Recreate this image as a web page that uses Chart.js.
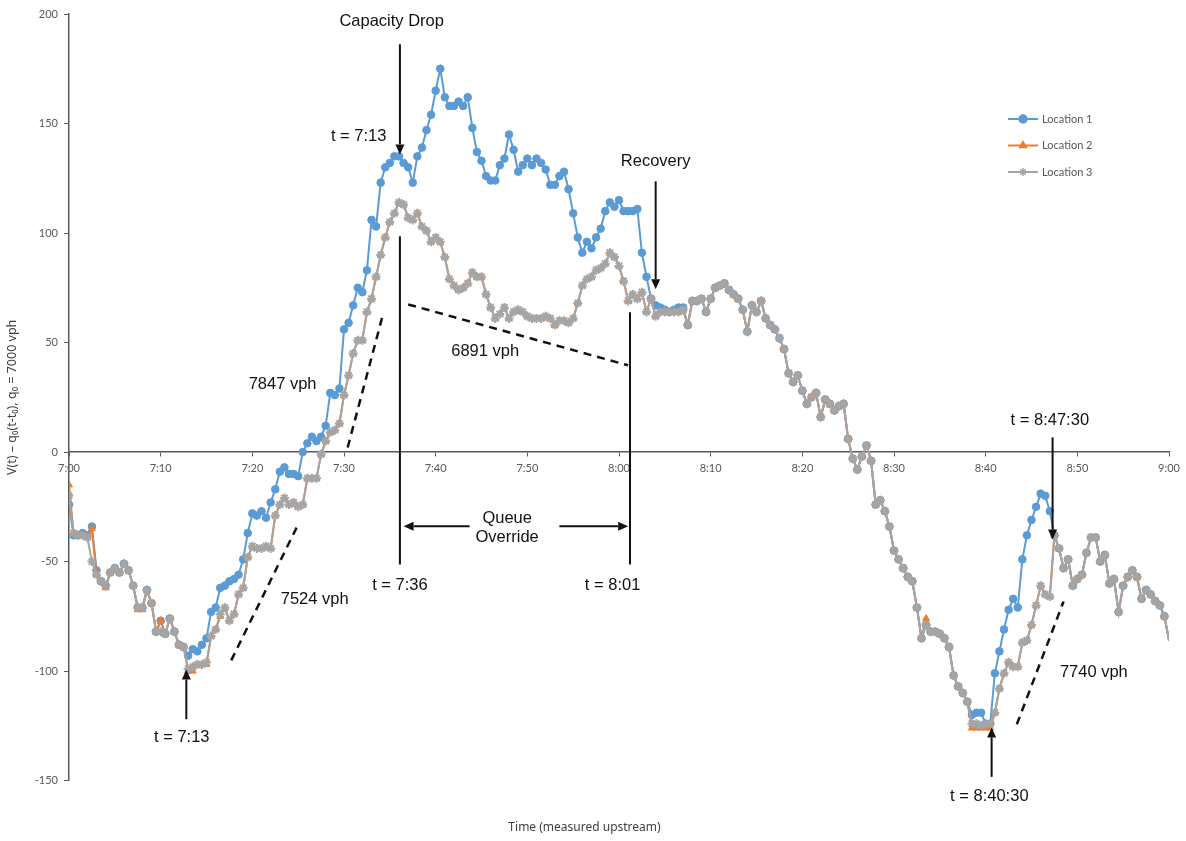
<!DOCTYPE html>
<html>
<head>
<meta charset="utf-8">
<script src="https://cdn.jsdelivr.net/npm/chart.js@4.4.1/dist/chart.umd.min.js"></script>
<style>
  body { margin: 0; background: #fff; }
  #wrap { width: 1186px; height: 841px; }
</style>
</head>
<body>
<div id="wrap"><canvas id="queueChart"></canvas></div>
<script>
// one sample every 30 s from 7:00 to 9:00, x in minutes after 7:00
const STEP_MIN = 0.5;
const timeLabels = ["7:00", "7:10", "7:20", "7:30", "7:40", "7:50", "8:00", "8:10", "8:20", "8:30", "8:40", "8:50", "9:00"];
const yTicks = [-150, -100, -50, 0, 50, 100, 150, 200];

const location1 = [
  -24, -38, -38, -37, -38, -34, -54, -59, -61, -55, -53, -55, -51, -54, -61, -71, -71, -63, -69, -82,
  -77, -83, -76, -82, -88, -89, -93, -90, -91, -88, -85, -73, -71, -62, -61, -59, -58, -56, -49, -37,
  -28, -29, -27, -30, -23, -17, -9, -7, -10, -10, -11, 0, 4, 7, 5, 7, 12, 27, 26, 29,
  56, 59, 67, 75, 73, 83, 106, 103, 123, 130, 132, 135, 135, 132, 130, 123, 135, 139, 147, 154,
  165, 175, 162, 158, 158, 160, 158, 162, 148, 137, 133, 126, 124, 124, 131, 134, 145, 138, 128, 131,
  134, 131, 134, 132, 129, 122, 122, 126, 128, 120, 109, 98, 91, 96, 93, 98, 102, 110, 114, 112,
  115, 110, 110, 110, 111, 91, 80, 70, 67, 66, 65, 64, 65, 66, 66, 58, 69, 69, 70, 64,
  70, 75, 76, 77, 74, 72, 70, 65, 55, 67, 64, 69, 61, 58, 56, 52, 47, 36, 32, 35,
  28, 22, 25, 27, 16, 24, 22, 19, 21, 22, 6, -3, -8, -2, 3, -4, -24, -22, -27, -34,
  -45, -49, -53, -57, -59, -71, -85, -79, -82, -82, -83, -85, -89, -102, -107, -110, -114, -120, -119, -119,
  -124, -124, -101, -91, -81, -72, -67, -71, -49, -38, -31, -25, -19, -20, -27, -38, -44, -53, -49, -61,
  -58, -56, -46, -39, -39, -50, -47, -60, -58, -73, -61, -57, -54, -57, -67, -63, -65, -68, -70, -75,
  -86
];

const location2 = [
  -15, -37, -38, -38, -39, -35, -56, -59, -62, -55, -53, -55, -51, -54, -61, -72, -72, -63, -69, -82,
  -77, -83, -76, -82, -88, -89, -100, -100, -97, -97, -97, -84, -81, -75, -71, -77, -74, -65, -62, -48,
  -43, -44, -44, -43, -44, -29, -24, -21, -24, -23, -25, -24, -12, -12, -12, -1, 5, 9, 10, 13,
  26, 35, 45, 51, 51, 64, 70, 80, 90, 98, 105, 109, 114, 113, 107, 106, 109, 103, 101, 96,
  98, 96, 89, 79, 76, 74, 75, 77, 82, 80, 80, 72, 66, 61, 63, 66, 61, 64, 65, 64,
  62, 61, 61, 61, 62, 61, 58, 60, 60, 59, 61, 68, 76, 79, 80, 83, 84, 86, 91, 89,
  85, 78, 69, 72, 70, 73, 64, 70, 62, 64, 64, 64, 64, 64, 65, 58, 69, 69, 70, 64,
  70, 75, 76, 77, 74, 72, 70, 65, 55, 67, 64, 69, 61, 58, 56, 52, 47, 36, 32, 35,
  28, 22, 25, 27, 16, 24, 22, 19, 21, 22, 6, -3, -8, -2, 3, -4, -24, -22, -27, -34,
  -45, -49, -53, -57, -59, -71, -85, -76, -82, -82, -83, -85, -89, -102, -107, -110, -114, -126, -126, -126,
  -126, -126, -119, -108, -101, -96, -98, -98, -87, -86, -79, -70, -61, -65, -66, -38, -44, -53, -49, -61,
  -58, -56, -46, -39, -39, -50, -47, -60, -58, -73, -61, -57, -54, -57, -67, -63, -65, -68, -70, -75,
  -86
];

const location3 = [
  -20, -37, -38, -38, -39, -50, -56, -59, -61, -55, -53, -55, -51, -54, -61, -71, -71, -63, -69, -82,
  -82, -83, -76, -82, -88, -89, -99, -98, -97, -97, -96, -84, -81, -74, -71, -77, -74, -65, -62, -48,
  -43, -44, -44, -43, -44, -29, -24, -21, -24, -23, -25, -24, -12, -12, -12, -1, 5, 9, 10, 13,
  26, 35, 45, 51, 51, 64, 70, 80, 90, 98, 105, 109, 114, 113, 107, 106, 109, 103, 101, 96,
  98, 96, 89, 79, 76, 74, 75, 77, 82, 80, 80, 72, 66, 61, 63, 66, 61, 64, 65, 64,
  62, 61, 61, 61, 62, 61, 58, 60, 60, 59, 61, 68, 76, 79, 80, 83, 84, 86, 91, 89,
  85, 78, 69, 72, 70, 73, 64, 70, 62, 64, 64, 64, 64, 64, 65, 58, 69, 69, 70, 64,
  70, 75, 76, 77, 74, 72, 70, 65, 55, 67, 64, 69, 61, 58, 56, 52, 47, 36, 32, 35,
  28, 22, 25, 27, 16, 24, 22, 19, 21, 22, 6, -3, -8, -2, 3, -4, -24, -22, -27, -34,
  -45, -49, -53, -57, -59, -71, -85, -79, -82, -82, -83, -85, -89, -102, -107, -110, -114, -124, -124, -125,
  -124, -124, -119, -108, -101, -96, -98, -98, -87, -86, -79, -70, -61, -65, -66, -38, -44, -53, -49, -61,
  -58, -56, -46, -39, -39, -50, -47, -60, -58, -73, -61, -57, -54, -57, -67, -63, -65, -68, -70, -75,
  -86
];

// annotations, in chart units (minutes after 7:00, vehicles)
const notes = [
  { text: "Capacity Drop", t: 35.2, v: 196.4 },
  { text: "t = 7:13", t: 31.6, v: 144.2 },
  { text: "Recovery", t: 64.0, v: 132.7 },
  { text: "7847 vph", t: 23.3, v: 31 },
  { text: "6891 vph", t: 45.4, v: 46 },
  { text: "7524 vph", t: 26.8, v: -67.3 },
  { text: "Queue", t: 47.8, v: -30.3 },
  { text: "Override", t: 47.8, v: -38.9 },
  { text: "t = 7:36", t: 36.1, v: -60.9 },
  { text: "t = 8:01", t: 59.3, v: -60.9 },
  { text: "t = 7:13", t: 12.3, v: -130.3 },
  { text: "t = 8:40:30", t: 100.4, v: -157.3 },
  { text: "t = 8:47:30", t: 107.0, v: 14.5 },
  { text: "7740 vph", t: 111.8, v: -100.6 }
];
const arrows = [
  { t1: 36.1, v1: 186.2, t2: 36.1, v2: 135.9 },
  { t1: 64.0, v1: 123.6, t2: 64.0, v2: 74.3 },
  { t1: 43.7, v1: -33.9, t2: 36.5, v2: -33.9 },
  { t1: 53.5, v1: -33.9, t2: 61.0, v2: -33.9 },
  { t1: 12.8, v1: -122, t2: 12.8, v2: -99.3 },
  { t1: 100.65, v1: -148.3, t2: 100.65, v2: -125.7 },
  { t1: 107.3, v1: 6.7, t2: 107.3, v2: -39.9 }
];
const markerLines = [
  { t1: 36.1, v1: 98.5, t2: 36.1, v2: -51.3 },
  { t1: 61.2, v1: 63.8, t2: 61.2, v2: -51.3 }
];
const rateLines = [
  { t1: 30.4, v1: 2.1, t2: 34.2, v2: 62 },
  { t1: 37.0, v1: 67.4, t2: 61.0, v2: 39.6 },
  { t1: 17.7, v1: -95.1, t2: 24.9, v2: -33.9 },
  { t1: 103.4, v1: -124.3, t2: 108.5, v2: -68.2 }
];

const toPoints = arr => arr.map((v, i) => ({ x: i * STEP_MIN, y: v }));
const lastIndex = location3.length - 1;
const markerSize = r => ctx => (ctx.dataIndex === lastIndex ? 0 : r);

const annotationPlugin = {
  id: "annotations",
  afterDraw(chart) {
    const { ctx, scales } = chart;
    const X = t => scales.x.getPixelForValue(t);
    const Y = v => scales.y.getPixelForValue(v);
    ctx.save();
    ctx.strokeStyle = "#111";
    ctx.fillStyle = "#111";

    ctx.lineWidth = 2;
    markerLines.forEach(l => {
      ctx.beginPath();
      ctx.moveTo(X(l.t1), Y(l.v1));
      ctx.lineTo(X(l.t2), Y(l.v2));
      ctx.stroke();
    });

    ctx.lineWidth = 2.5;
    ctx.setLineDash([8, 6]);
    rateLines.forEach(l => {
      ctx.beginPath();
      ctx.moveTo(X(l.t1), Y(l.v1));
      ctx.lineTo(X(l.t2), Y(l.v2));
      ctx.stroke();
    });
    ctx.setLineDash([]);

    ctx.lineWidth = 2;
    arrows.forEach(a => {
      const x1 = X(a.t1), y1 = Y(a.v1), x2 = X(a.t2), y2 = Y(a.v2);
      const ang = Math.atan2(y2 - y1, x2 - x1);
      const len = 10, half = 4.5;
      const bx = x2 - len * Math.cos(ang), by = y2 - len * Math.sin(ang);
      ctx.beginPath();
      ctx.moveTo(x1, y1);
      ctx.lineTo(bx, by);
      ctx.stroke();
      ctx.beginPath();
      ctx.moveTo(x2, y2);
      ctx.lineTo(bx + half * Math.sin(ang), by - half * Math.cos(ang));
      ctx.lineTo(bx - half * Math.sin(ang), by + half * Math.cos(ang));
      ctx.closePath();
      ctx.fill();
    });

    ctx.font = "16.5px 'Liberation Sans', Arial, sans-serif";
    ctx.textAlign = "center";
    ctx.textBaseline = "middle";
    notes.forEach(n => ctx.fillText(n.text, X(n.t), Y(n.v)));
    ctx.restore();
  }
};

const legendPlugin = {
  id: "sideLegend",
  afterDraw(chart) {
    const ctx = chart.ctx;
    chart.data.datasets.forEach((ds, i) => {
      const y = 119 + i * 26.5;
      ctx.save();
      ctx.strokeStyle = ds.borderColor;
      ctx.lineWidth = ds.borderWidth;
      ctx.beginPath();
      ctx.moveTo(1008, y);
      ctx.lineTo(1038, y);
      ctx.stroke();
      ctx.fillStyle = ds.backgroundColor;
      ctx.lineWidth = 1.5;
      Chart.helpers.drawPoint(ctx, { pointStyle: ds.pointStyle, radius: 4, rotation: 0, borderWidth: 1.5 }, 1023, y);
      ctx.fillStyle = "#595959";
      ctx.font = "11px Lato, 'Open Sans', sans-serif";
      ctx.textAlign = "left";
      ctx.textBaseline = "middle";
      ctx.fillText(ds.label, 1042, y);
      ctx.restore();
    });
  }
};

new Chart(document.getElementById("queueChart"), {
  type: "line",
  data: {
    datasets: [
      {
        label: "Location 1",
        data: toPoints(location1),
        borderColor: "#5B9BD5",
        backgroundColor: "#5B9BD5",
        borderWidth: 2,
        pointStyle: "circle",
        pointRadius: markerSize(3.8),
        pointBorderWidth: 1,
        order: 2
      },
      {
        label: "Location 2",
        data: toPoints(location2),
        borderColor: "#ED7D31",
        backgroundColor: "#ED7D31",
        borderWidth: 2,
        pointStyle: "triangle",
        pointRadius: markerSize(4),
        pointBorderWidth: 1,
        order: 1
      },
      {
        label: "Location 3",
        data: toPoints(location3),
        borderColor: "#A5A5A5",
        backgroundColor: "#A5A5A5",
        borderWidth: 2,
        pointStyle: "star",
        pointRadius: markerSize(4.5),
        pointBorderWidth: 2,
        order: 0
      }
    ]
  },
  options: {
    responsive: true,
    maintainAspectRatio: false,
    animation: false,
    events: [],
    layout: { padding: { top: 14, right: 17, left: 0, bottom: 0 } },
    elements: { line: { tension: 0 } },
    scales: {
      x: {
        type: "linear",
        position: { y: 0 },
        min: 0,
        max: 120,
        grid: { drawOnChartArea: false, drawTicks: true, tickLength: 4, color: "#595959" },
        border: { display: true, color: "#595959", width: 1.5 },
        ticks: {
          stepSize: 10,
          padding: 6,
          color: "#595959",
          font: { family: "Lato, 'Open Sans', sans-serif", size: 11 },
          callback: v => timeLabels[v / 10]
        }
      },
      y: {
        min: yTicks[0],
        max: yTicks[yTicks.length - 1],
        afterFit: scale => { scale.width = 69; },
        grid: { drawOnChartArea: false, drawTicks: true, tickLength: 5, color: "#595959" },
        border: { display: true, color: "#595959", width: 1.5 },
        ticks: {
          stepSize: 50,
          padding: 6,
          color: "#595959",
          font: { family: "Lato, 'Open Sans', sans-serif", size: 11 }
        },
        title: {
          display: true,
          text: "V(t) \u2013 q\u2080(t-t\u2080), q\u2080 = 7000 vph",
          color: "#404040",
          font: { family: "'Noto Sans', sans-serif", size: 12.5 },
          padding: { top: 5, bottom: 0 }
        }
      }
    },
    plugins: {
      legend: { display: false },
      tooltip: { enabled: false },
      title: {
        display: true,
        position: "bottom",
        text: "Time (measured upstream)",
        color: "#404040",
        font: { family: "'Noto Sans', sans-serif", size: 12, weight: "normal" },
        padding: { top: 40, bottom: 6 }
      }
    }
  },
  plugins: [annotationPlugin, legendPlugin]
});
</script>
</body>
</html>
